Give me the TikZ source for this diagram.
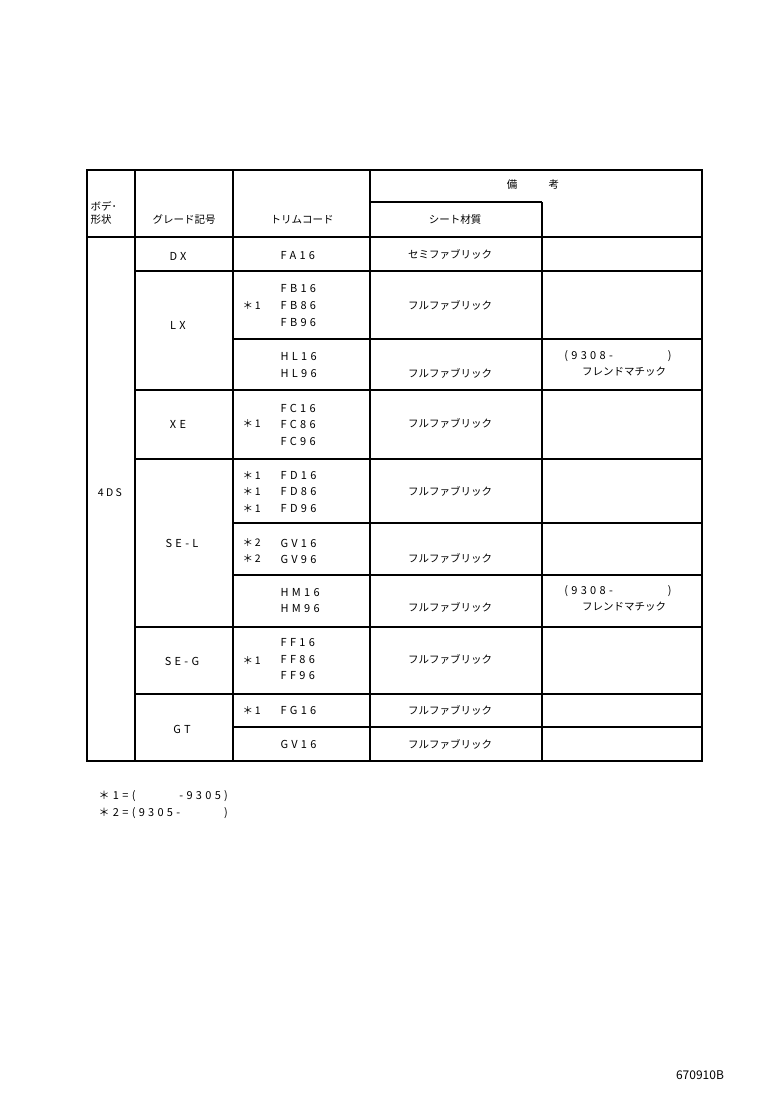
\documentclass[tikz,border=0pt]{standalone}
\usepackage{fontspec}
\newfontfamily\jp{Noto Sans CJK JP}
\usetikzlibrary{positioning}

\begin{document}
\begin{tikzpicture}[x=1pt,y=-1pt,line width=1.3pt,
  txt/.style={font=\jp\fontsize{10.5}{12.5}\selectfont,inner sep=0pt},
  code/.style={txt,anchor=west,font=\jp\fontsize{11}{13}\selectfont\addfontfeature{LetterSpace=30}},
  star/.style={txt,anchor=west}]

  \useasboundingbox[fill=white] (0,0) rectangle (760,1112);

  % grid
  \draw (87,170) rectangle (702,761);
  \draw (135,170) -- (135,761)
        (233,170) -- (233,761)
        (370,170) -- (370,761)
        (542,761) -- (542,202) (370,202) -- (542,202);
  \draw (87,237) -- (702,237);
  \foreach \yy in {271,390,459,627,694}
    \draw (135,\yy) -- (702,\yy);
  \foreach \yy in {339,523,575,727}
    \draw (233,\yy) -- (702,\yy);

  % header
  \node[txt] (bi) at (512,185) {備};
  \node[txt] (kou) [right=30pt of bi] {考};
  \node[txt,align=left,anchor=west] (body) at (90,213) {ボデ･\\形状};
  \node[txt] (grade) at (184,220) {グレード記号};
  \node[txt] (trim) at (302,220) {トリムコード};
  \node[txt] (seat) at (455,220) {シート材質};
  \node[txt] (fds) at (110,493) {4 D S};

  % grades
  \node[code,anchor=center] (dx) at (178,256) {DX};
  \node[code,anchor=center] (lx) at (178,325) {LX};
  \node[code,anchor=center] (xe) at (178,424) {XE};
  \node[code,anchor=center] (sel) at (182,543) {SE-L};
  \node[code,anchor=center] (seg) at (182,661) {SE-G};
  \node[code,anchor=center] (gt) at (182,729) {GT};

  % trim codes
  \node[code] (fa16) at (280,256) {FA16};
  \node[code] (fb16) at (280,289) {FB16};
  \node[code] (fb86) at (280,306) {FB86};
  \node[code] (fb96) at (280,323) {FB96};
  \node[code] (hl16) at (280,357) {HL16};
  \node[code] (hl96) at (280,374) {HL96};
  \node[code] (fc16) at (280,408) {FC16};
  \node[code] (fc86) at (280,424) {FC86};
  \node[code] (fc96) at (280,441) {FC96};
  \node[code] (fd16) at (280,476) {FD16};
  \node[code] (fd86) at (280,492) {FD86};
  \node[code] (fd96) at (280,509) {FD96};
  \node[code] (gv16a) at (280,543) {GV16};
  \node[code] (gv96) at (280,559) {GV96};
  \node[code] (hm16) at (280,593) {HM16};
  \node[code] (hm96) at (280,609) {HM96};
  \node[code] (ff16) at (280,643) {FF16};
  \node[code] (ff86) at (280,660) {FF86};
  \node[code] (ff96) at (280,676) {FF96};
  \node[code] (fg16) at (280,710) {FG16};
  \node[code] (gv16b) at (280,744) {GV16};

  % marks
  \foreach \nm/\yy/\mk in {sa/306/1,sb/424/1,sc/476/1,sd/492/1,se/509/1,
      sf/543/2,sg/559/2,sh/660/1,si/710/1}
    \node[star] (\nm) at (242,\yy) {＊\,\mk};

  % seat material
  \node[txt] (m1) at (450,254) {セミファブリック};
  \foreach \nm/\yy in {m2/305,m3/373,m4/423,m5/491,m6/558,m7/607,m8/659,m9/710,m10/744}
    \node[txt] (\nm) at (450,\yy) {フルファブリック};

  % remarks
  \node[code,anchor=center] (r1) at (618,356) {(9308-\hspace{5em})};
  \node[txt] (r2) at (624,372) {フレンドマチック};
  \node[code,anchor=center] (r3) at (618,591) {(9308-\hspace{5em})};
  \node[txt] (r4) at (624,607) {フレンドマチック};

  % notes
  \node[code] (n1) at (98,796) {＊1=(\hspace{4em}-9305)};
  \node[code] (n2) at (98,813) {＊2=(9305-\hspace{4em})};
  \node[txt,font=\jp\fontsize{12}{14}\selectfont] (pno) at (700,1075) {670910B};
\end{tikzpicture}
\end{document}
